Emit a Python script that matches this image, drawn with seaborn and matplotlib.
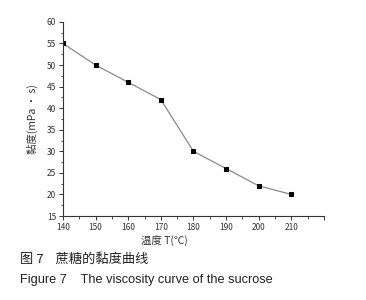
import matplotlib
matplotlib.use('agg')
import matplotlib.pyplot as plt
import seaborn as sns
import pandas as pd
from matplotlib.ticker import MultipleLocator

# data
temps = [140, 150, 160, 170, 180, 190, 200, 210]
viscosity = [55, 50, 46, 42, 30, 26, 22, 20]

sns.set_style('ticks')
plt.rcParams['font.family'] = ['Noto Sans CJK SC', 'DejaVu Sans']

df = pd.DataFrame({'T': temps, 'eta': viscosity})

fig = plt.figure(figsize=(3.66, 3.00), dpi=100)
ax = fig.add_axes([0.172, 0.28, 0.713, 0.647])

sns.lineplot(data=df, x='T', y='eta', ax=ax, color='#8a8a8a', linewidth=0.9,
             marker='s', markersize=3.5, markerfacecolor='black',
             markeredgecolor='black')

ax.set_xlim(140, 220)
ax.set_ylim(15, 60)
ax.xaxis.set_major_locator(MultipleLocator(10))
ax.xaxis.set_minor_locator(MultipleLocator(5))
ax.yaxis.set_major_locator(MultipleLocator(5))
ax.yaxis.set_minor_locator(MultipleLocator(2.5))
ax.set_xticks(range(140, 230, 10))
ax.set_xticklabels([str(t) for t in range(140, 220, 10)] + [''])

for s in ['top', 'right']:
    ax.spines[s].set_visible(False)
for s in ['left', 'bottom']:
    ax.spines[s].set_linewidth(0.8)
    ax.spines[s].set_color('#333333')

ax.tick_params(which='major', length=3, width=0.7, labelsize=6,
               colors='#333333', pad=2)
ax.tick_params(which='minor', length=1.8, width=0.6, colors='#333333')

ax.set_xlabel('温度 T(℃)', fontsize=7.5, color='#333333')
ax.xaxis.set_label_coords(0.387, -0.1)
ax.set_ylabel('黏度(mPa • s)', fontsize=7.5, color='#333333', labelpad=6)

fig.text(0.055, 0.125, '图 7    蔗糖的黏度曲线', fontsize=9.5, color='#222222')
fig.text(0.055, 0.055, 'Figure 7    The viscosity curve of the sucrose',
         fontsize=9.2, color='#222222', family=['Liberation Sans', 'DejaVu Sans'])

fig.savefig('out.png', dpi=100)
